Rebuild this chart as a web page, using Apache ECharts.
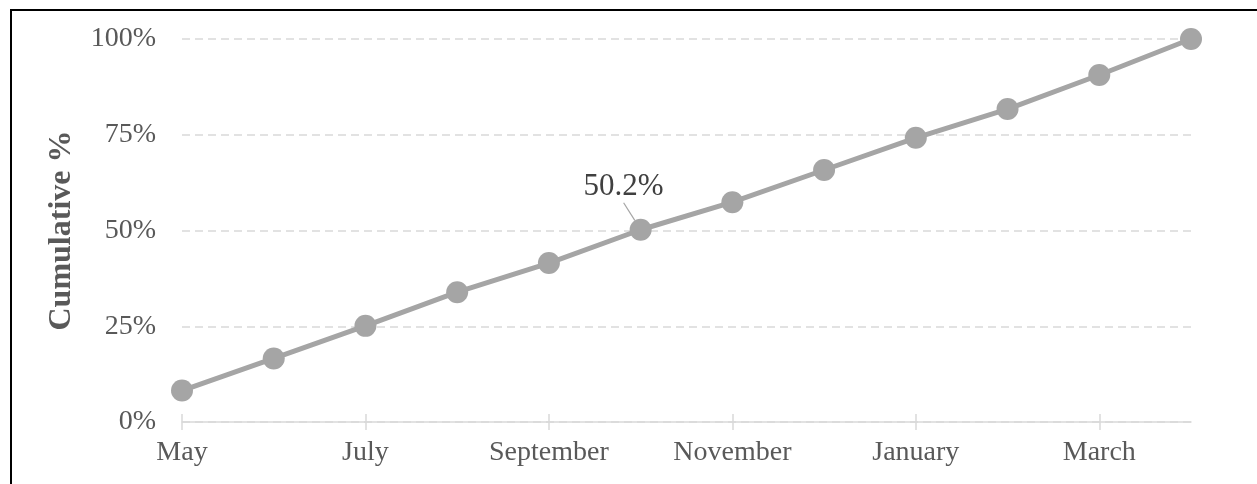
<!DOCTYPE html>
<html>
<head>
<meta charset="utf-8">
<script src="https://cdn.jsdelivr.net/npm/echarts@6/dist/echarts.min.js"></script>
<style>
  html, body { margin: 0; padding: 0; background: #fff; }
  #chart { width: 1257px; height: 484px; }
  #frame { position: absolute; left: 10px; top: 9px; width: 1400px; height: 600px;
           border: 2px solid #000; pointer-events: none; }
</style>
</head>
<body>
<div id="chart"></div>
<div id="frame"></div>
<script>
// 月份与累计百分比
const months = ['May', 'June', 'July', 'August', 'September', 'October',
                'November', 'December', 'January', 'February', 'March', 'April'];
const cumulative = [8.2, 16.6, 25.1, 33.9, 41.5, 50.2, 57.4, 65.8, 74.2, 81.7, 90.6, 100];
const labelIndex = 5; // 只标注 50.2%

const chart = echarts.init(document.getElementById('chart'));

const seriesData = cumulative.map((v, i) => {
    if (i !== labelIndex) return v;
    return {
        value: v,
        label: { show: true },
        labelLine: { show: true }
    };
});

const option = {
    backgroundColor: '#fff',
    animation: false,
    textStyle: { fontFamily: 'Liberation Serif' },
    grid: { left: 182, right: 66, top: 39, bottom: 62 },
    xAxis: [{
        type: 'category',
        data: months,
        boundaryGap: false,
        axisLine: { lineStyle: { color: '#d9d9d9', width: 1.5 } },
        axisTick: { show: true, interval: 1, length: 8, lineStyle: { color: '#d9d9d9', width: 1.5 } },
        axisLabel: { interval: 1, color: '#595959', fontSize: 28, margin: 17 },
        splitLine: { show: false }
    }, {
        // 内侧刻度，使刻度线穿过轴线
        type: 'category',
        data: months,
        boundaryGap: false,
        position: 'bottom',
        axisLine: { show: false },
        axisTick: { show: true, inside: true, interval: 1, length: 8, lineStyle: { color: '#d9d9d9', width: 1.5 } },
        axisLabel: { show: false }
    }],
    yAxis: {
        type: 'value',
        min: 0,
        max: 100,
        interval: 25,
        name: 'Cumulative %',
        nameLocation: 'middle',
        nameGap: 104,
        nameRotate: 90,
        nameTextStyle: { color: '#595959', fontSize: 32, fontWeight: 'bold' },
        axisLine: { show: false },
        axisTick: { show: false },
        axisLabel: { color: '#595959', fontSize: 28, margin: 26, formatter: '{value}%' },
        splitLine: { lineStyle: { color: '#d9d9d9', type: [8, 5], width: 1.5 } }
    },
    series: [{
        type: 'line',
        data: seriesData,
        symbol: 'circle',
        symbolSize: 22,
        lineStyle: { color: '#a5a5a5', width: 5 },
        itemStyle: { color: '#a5a5a5' },
        label: {
            show: false,
            position: 'top',
            formatter: '{c}%',
            color: '#404040',
            fontSize: 31,
            distance: 5
        },
        labelLine: { show: false, lineStyle: { color: '#a5a5a5', width: 1.2 } },
        labelLayout: function (params) {
            if (params.dataIndex === labelIndex) return { dx: -17, dy: -11 };
        }
    }]
};

chart.setOption(option);
</script>
</body>
</html>
